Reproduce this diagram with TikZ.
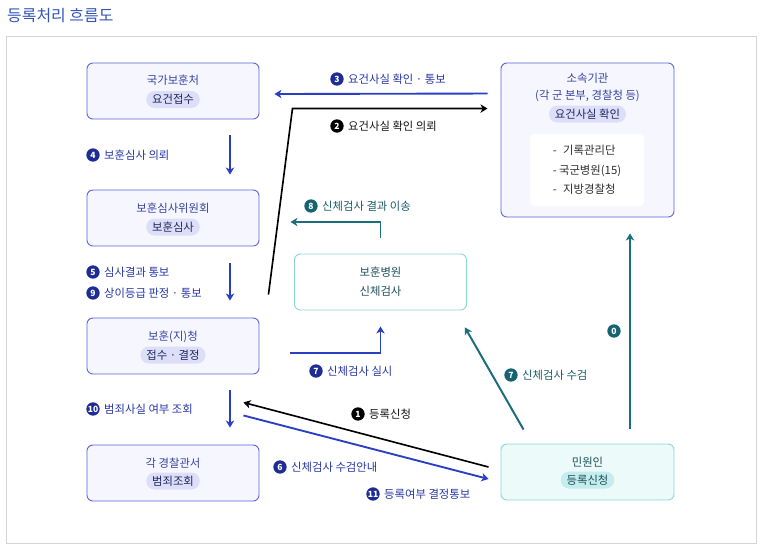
\documentclass[tikz,border=0pt]{standalone}
\usepackage{fontspec}
\setmainfont{Noto Sans CJK KR}
\usetikzlibrary{arrows.meta,positioning,calc}
\definecolor{FlowBlue}{RGB}{43,63,196}
\definecolor{FlowTeal}{RGB}{27,110,124}
\definecolor{NumNavy}{RGB}{32,44,150}
\definecolor{NumTeal}{RGB}{22,100,112}
\definecolor{LblBlue}{RGB}{40,55,165}
\definecolor{LblTeal}{RGB}{25,92,104}
\definecolor{LblBlack}{RGB}{20,20,20}
\definecolor{OrgBorder}{RGB}{92,100,214}
\definecolor{OrgFill}{RGB}{246,246,255}
\definecolor{OrgText}{RGB}{55,68,160}
\definecolor{OrgPill}{RGB}{221,223,249}
\definecolor{PillText}{RGB}{32,38,95}
\definecolor{CareBorder}{RGB}{138,214,214}
\definecolor{CareFill}{RGB}{236,250,250}
\definecolor{CarePill}{RGB}{198,237,237}
\definecolor{CareText}{RGB}{30,80,90}
\definecolor{ListText}{RGB}{45,45,45}
\definecolor{FrameGray}{RGB}{212,212,212}
\definecolor{TitleBlue}{RGB}{52,84,184}
\tikzset{
  orgbox/.style={draw=OrgBorder, fill=OrgFill, rounded corners=5pt, line width=0.8pt,
                 minimum width=5.16cm, minimum height=1.68cm},
  carebox/.style={draw=CareBorder, fill=white, rounded corners=5pt, line width=0.8pt,
                  minimum width=5.16cm, minimum height=1.68cm},
  boxtitle/.style={font=\fontsize{9.7}{11}\selectfont, text=OrgText, inner sep=0pt},
  pill/.style={fill=OrgPill, rounded corners=2.5mm, font=\fontsize{9.7}{11}\selectfont,
               text=PillText, inner xsep=5pt, inner ysep=0pt, minimum height=5.1mm},
  carepill/.style={pill, fill=CarePill, text=CareText},
  % step numbers and step labels
  numdot/.style={circle, fill=#1, text=white, inner sep=0pt, minimum size=4mm,
                 font=\bfseries\fontsize{7.3}{7.3}\selectfont},
  lblblue/.style={font=\fontsize{9.7}{11}\selectfont, text=LblBlue, inner sep=0pt},
  lblteal/.style={lblblue, text=LblTeal},
  lblblack/.style={lblblue, text=LblBlack},
  % connector families
  bluerel/.style={-{Stealth[length=2.1mm,width=2.5mm,inset=0.6mm]}, line width=1.6pt, FlowBlue},
  tealrel/.style={-{Stealth[length=2.1mm,width=2.5mm,inset=0.6mm]}, line width=1.7pt, FlowTeal},
  blackrel/.style={-{Stealth[length=2.1mm,width=2.5mm,inset=0.6mm]}, line width=1.4pt, black},
}
\begin{document}
\begin{tikzpicture}[x=0.03cm, y=-0.03cm]
  \useasboundingbox (0,0) rectangle (775,558);

  \node[anchor=west, inner sep=0pt, text=TitleBlue, font=\fontsize{13.6}{15}\selectfont] (title) at (7,16) {등록처리 흐름도};
  \draw[FrameGray, line width=0.8pt] (6,36) rectangle (756,543);

  % --- Left column: Ministry / committee / office / police ---------------------
  \node[orgbox] (gukga) at (173,91) {};
  \node[boxtitle] (gukga-t) at (173,80) {국가보훈처};
  \node[pill]     (gukga-p) at (173,99.5) {요건접수};

  \node[orgbox] (simsa) at (173,218) {};
  \node[boxtitle] (simsa-t) at (173,208) {보훈심사위원회};
  \node[pill]     (simsa-p) at (173,227) {보훈심사};

  \node[orgbox] (bohun) at (173,346) {};
  \node[boxtitle] (bohun-t) at (173,337) {보훈(지)청};
  \node[pill]     (bohun-p) at (173,355) {접수 · 결정};

  \node[orgbox] (police) at (173,473) {};
  \node[boxtitle] (police-t) at (173,463) {각 경찰관서};
  \node[pill]     (police-p) at (173,481) {범죄조회};

  % --- Right side: affiliated agencies, hospital, applicant --------------------
  \node[orgbox, minimum width=5.19cm, minimum height=4.62cm] (sosok) at (587.5,140) {};
  \node[boxtitle, align=center, font=\fontsize{9.7}{14.5}\selectfont] (sosok-t) at (587.5,87) {소속기관\\(각 군 본부, 경찰청 등)};
  \node[pill] (sosok-p) at (587.5,114) {요건사실 확인};
  \node[fill=white, rounded corners=4pt, minimum width=3.42cm, minimum height=2.16cm, align=left,
        font=\fontsize{9.7}{16.5}\selectfont, text=ListText] (sosok-list) at (587,170)
        {-\hspace{5.5pt}기록관리단\\-\hspace{2pt}국군병원(15)\\-\hspace{5.5pt}지방경찰청};

  \node[carebox] (hospital) at (380.5,282) {};
  \node[boxtitle, text=CareText, align=center, font=\fontsize{9.7}{16.5}\selectfont] (hospital-t) at (380.5,282) {보훈병원\\신체검사};

  \node[carebox, fill=CareFill, minimum width=5.19cm] (minwon) at (587.5,472) {};
  \node[boxtitle, text=CareText] (minwon-t) at (587.5,462) {민원인};
  \node[carepill] (minwon-p) at (587.5,480) {등록신청};

  % --- Vertical flow on the left -----------------------------------------------
  \draw[bluerel] ([shift={(57,16)}]gukga.south) -- ([shift={(57,-15)}]simsa.north);
  \draw[bluerel] ([shift={(57,17)}]simsa.south) -- ([shift={(57,-17)}]bohun.north);
  \draw[bluerel] ([shift={(57,16)}]bohun.south) -- ([shift={(57,-17)}]police.north);

  \node[numdot=NumNavy] (n4) at (93,155) {4};
  \node[lblblue, right=1.2mm of n4] (l4) {보훈심사 의뢰};
  \node[numdot=NumNavy] (n5) at (93,272) {5};
  \node[lblblue, right=1.2mm of n5] (l5) {심사결과 통보};
  \node[numdot=NumNavy] (n9) at (93,293) {9};
  \node[lblblue, right=1.2mm of n9] (l9) {상이등급 판정 · 통보};
  \node[numdot=NumNavy] (n10) at (93,409) {10};
  \node[lblblue, right=1.2mm of n10] (l10) {범죄사실 여부 조회};

  % --- Fact checking with the affiliated agencies ------------------------------
  \draw[bluerel] ([shift={(-13,31)}]sosok.north west) -- ([shift={(15,3)}]gukga.east);
  \draw[blackrel] ([shift={(9,-23)}]bohun.north east) -- ++(24,-186) -- ([shift={(-13,46)}]sosok.north west);
  \node[numdot=NumNavy] (n3) at (337,79) {3};
  \node[lblblue, right=1.2mm of n3] (l3) {요건사실 확인 · 통보};
  \node[numdot=black] (n2) at (337,126) {2};
  \node[lblblack, right=1.2mm of n2] (l2) {요건사실 확인 의뢰};

  % --- Physical examination ----------------------------------------------------
  \draw[tealrel] ([shift={(0,-16)}]hospital.north) |- ([shift={(31,4)}]simsa.east);
  \node[numdot=NumTeal] (n8) at (311,206) {8};
  \node[lblteal, right=1.2mm of n8] (l8) {신체검사 결과 이송};

  \draw[bluerel] ([shift={(31,7)}]bohun.east) -| ([shift={(0,16)}]hospital.south);
  \node[numdot=NumNavy] (n7a) at (316,371) {7};
  \node[lblblue, right=1.2mm of n7a] (l7a) {신체검사 실시};

  \draw[tealrel] ([shift={(23,-14)}]minwon.north west) -- ([shift={(-2,17)}]hospital.south east);
  \node[numdot=NumTeal] (n7b) at (511,375) {7};
  \node[lblteal, right=1.2mm of n7b] (l7b) {신체검사 수검};

  \draw[tealrel] ([shift={(42.5,-15)}]minwon.north) -- ([shift={(42.5,16)}]sosok.south);
  \node[numdot=NumTeal] (n0) at (614,331) {0};

  % --- Application and notices -------------------------------------------------
  \draw[blackrel] ([shift={(-12,-5)}]minwon.west) -- ([shift={(-16,28)}]bohun.south east);
  \draw[bluerel] ([shift={(-16,41)}]bohun.south east) -- ([shift={(-12,7)}]minwon.west);
  \node[numdot=black] (n1) at (358,414) {1};
  \node[lblblack, right=1.2mm of n1] (l1) {등록신청};
  \node[numdot=NumNavy] (n6) at (280,467) {6};
  \node[lblblue, right=1.2mm of n6] (l6) {신체검사 수검안내};
  \node[numdot=NumNavy] (n11) at (373,494) {11};
  \node[lblblue, right=1.2mm of n11] (l11) {등록여부 결정통보};

\end{tikzpicture}
\end{document}
